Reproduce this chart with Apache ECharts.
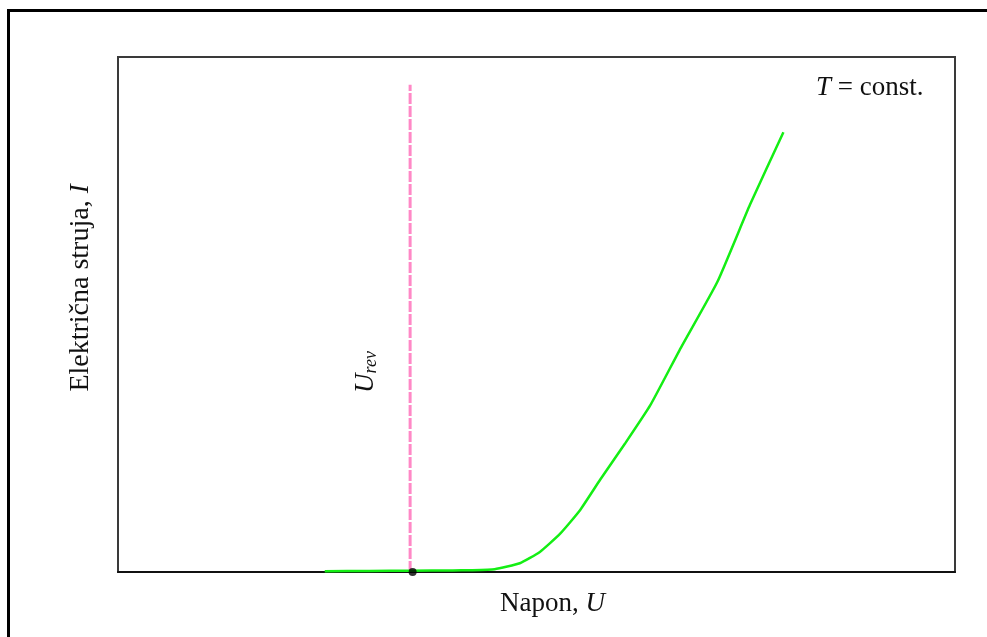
<!DOCTYPE html>
<html>
<head>
<meta charset="utf-8">
<script src="https://cdn.jsdelivr.net/npm/echarts@6/dist/echarts.min.js"></script>
<style>
  html, body { margin: 0; padding: 0; background: #fff; }
  #chart { width: 987px; height: 637px; }
</style>
</head>
<body>
<div id="chart"></div>
<script>
// Data (arbitrary units: U and I scaled 0..100)
const curveU = [24.7, 30, 35, 40, 42.1, 45.0, 48.0, 50.4, 52.8, 55.2, 57.6, 60.6, 63.6, 67.1, 71.6, 75.5, 79.5];
const curveI = [0.15, 0.2, 0.25, 0.3, 0.35, 0.55, 1.7, 3.9, 7.4, 12.0, 17.9, 25.0, 32.4, 43.1, 56.3, 71.3, 85.4];
const urevU = [34.9, 34.9];
const urevI = [0, 94.6];
const pointU = [35.2];
const pointI = [0];

const xLabel = 'Napon, ';
const yLabel = 'Električna struja, ';

const chart = echarts.init(document.getElementById('chart'), null, { renderer: 'canvas' });
const serif = '"Liberation Serif", "DejaVu Serif", serif';

chart.setOption({
  animation: false,
  backgroundColor: '#ffffff',
  grid: { left: 118, right: 32, top: 57, bottom: 65, show: true, borderColor: '#3a3a3a', borderWidth: 2, backgroundColor: 'transparent' },
  xAxis: {
    type: 'value', min: 0, max: 100,
    axisLine: { show: true, lineStyle: { color: '#111', width: 2 } },
    axisTick: { show: false }, axisLabel: { show: false }, splitLine: { show: false }
  },
  yAxis: {
    type: 'value', min: 0, max: 100,
    axisLine: { show: false }, axisTick: { show: false }, axisLabel: { show: false }, splitLine: { show: false }
  },
  series: [
    {
      type: 'line', name: 'Urev',
      data: urevU.map((u, i) => [u, urevI[i]]),
      symbol: 'none',
      lineStyle: { color: '#ff88c6', width: 3, type: [11, 2] },
      z: 2
    },
    {
      type: 'line', name: 'I(U)',
      data: curveU.map((u, i) => [u, curveI[i]]),
      symbol: 'none', smooth: 0.15,
      lineStyle: { color: '#14ee14', width: 2.5 },
      z: 3
    },
    {
      type: 'scatter', name: 'point',
      data: pointU.map((u, i) => [u, pointI[i]]),
      symbol: 'circle', symbolSize: 8,
      itemStyle: { color: '#000' },
      z: 5
    }
  ],
  graphic: [
    {
      type: 'rect', silent: true,
      shape: { x: 8.5, y: 10.5, width: 1100, height: 800 },
      style: { fill: 'none', stroke: '#000', lineWidth: 3 }
    },
    {
      type: 'text', left: 816, top: 74,
      style: {
        text: '{i|T} = const.',
        rich: {
          i: { fontFamily: serif, fontStyle: 'italic', fontSize: 27, fill: '#111' }
        },
        fontFamily: serif, fontSize: 27, fill: '#111'
      }
    },
    {
      type: 'text', left: 500, top: 590,
      style: {
        text: xLabel + '{i|U}',
        rich: { i: { fontFamily: serif, fontStyle: 'italic', fontSize: 27, fill: '#111' } },
        fontFamily: serif, fontSize: 27, fill: '#111'
      }
    },
    {
      type: 'text', x: 81, y: 288, rotation: Math.PI / 2,
      style: {
        text: yLabel + '{i|I}',
        rich: { i: { fontFamily: serif, fontStyle: 'italic', fontSize: 27, fill: '#111' } },
        fontFamily: serif, fontSize: 28, fill: '#111',
        align: 'center', verticalAlign: 'middle'
      }
    },
    {
      type: 'text', x: 366, y: 372, rotation: Math.PI / 2,
      style: {
        text: '{u|U}{s|rev}',
        rich: {
          u: { fontFamily: serif, fontStyle: 'italic', fontSize: 27, fill: '#111' },
          s: { fontFamily: serif, fontStyle: 'italic', fontSize: 18, fill: '#111', padding: [10, 0, 0, 0] }
        },
        align: 'center', verticalAlign: 'middle'
      }
    }
  ]
});
</script>
</body>
</html>
